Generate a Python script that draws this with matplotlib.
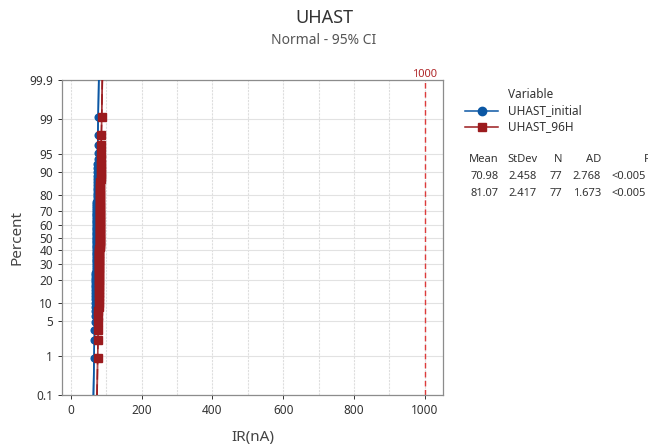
"""
Normal probability plot UHAST_initial vs UHAST_96H (Minitab-Stil)
"""

import numpy as np
import matplotlib
matplotlib.use('Agg')
import matplotlib.pyplot as plt
from matplotlib.lines import Line2D
from matplotlib.ticker import MultipleLocator
from statistics import NormalDist

# Daten: Messwerte (ganzzahlig, mit Haeufigkeit)
werte_initial = [65, 66, 67, 68, 69, 70, 71, 72, 73, 74, 75, 76, 77]
anzahl_initial = [1, 2, 3, 5, 8, 14, 14, 12, 8, 5, 3, 1, 1]
werte_96h = [75, 76, 77, 78, 79, 80, 81, 82, 83, 84, 85, 86, 87]
anzahl_96h = [1, 2, 3, 5, 8, 13, 14, 13, 8, 5, 3, 1, 1]

# Kennwerte aus der Tabelle
variablen = ['UHAST_initial', 'UHAST_96H']
mittel = [70.98, 81.07]
stdabw = [2.458, 2.417]
n_werte = [77, 77]
ad_werte = ['2.768', '1.673']
p_werte = ['<0.005', '<0.005']

y_ticks = [0.1, 1, 5, 10, 20, 30, 40, 50, 60, 70, 80, 90, 95, 99, 99.9]
y_labels = ['0.1', '1', '5', '10', '20', '30', '40', '50', '60', '70', '80', '90', '95', '99', '99.9']
referenz = 1000

farben = ['#0B57A4', '#9B1B1E']
marker = ['o', 's']
linien = ['-', (0, (7, 3))]

nd = NormalDist()
z = lambda p: nd.inv_cdf(p / 100.0)

plt.rcParams['font.family'] = ['Noto Sans', 'DejaVu Sans']
fig = plt.figure(figsize=(6.48, 4.48), dpi=100)
W, H = 648.0, 448.0
ax = fig.add_axes([62 / W, 1 - 395 / H, (443 - 62) / W, (395 - 80) / H])

for i, (w, a) in enumerate([(werte_initial, anzahl_initial), (werte_96h, anzahl_96h)]):
    x = np.sort(np.repeat(w, a))
    n = len(x)
    rang = np.arange(1, n + 1)
    p = (rang - 0.3) / (n + 0.4) * 100
    y = np.array([z(v) for v in p])
    # Fit-Gerade mit 95%-Konfidenzband
    pz = np.linspace(z(0.1), z(99.9), 60)
    fit = mittel[i] + pz * stdabw[i]
    se = stdabw[i] * np.sqrt((1 + pz ** 2 / 2) / n_werte[i])
    ax.plot(fit, pz, color=farben[i], lw=1.1, ls=linien[i], zorder=3)
    ax.plot(fit - 1.96 * se, pz, color=farben[i], lw=0.6, zorder=3)
    ax.plot(fit + 1.96 * se, pz, color=farben[i], lw=0.6, zorder=3)
    ax.plot(x, y, ls='none', marker=marker[i], color=farben[i], ms=4.8 if i == 0 else 5.3,
            mec=farben[i], zorder=4)

ax.axvline(referenz, color='#DD3B3B', lw=1, ls=(0, (4, 2.5)), zorder=2)
ax.text(referenz, z(99.9), '1000', color='#B0282A', fontsize=8, ha='center', va='bottom',
        transform=ax.transData)

ax.set_xlim(-25.5, 1052)
ax.set_ylim(z(0.1), z(99.9))
ax.set_yticks([z(v) for v in y_ticks])
ax.set_yticklabels(y_labels)
ax.xaxis.set_major_locator(MultipleLocator(200))
ax.xaxis.set_minor_locator(MultipleLocator(100))
ax.grid(axis='y', color='#E2E2E2', lw=0.8)
ax.grid(axis='x', which='both', color='#DEDEDE', lw=0.8, ls=(0, (2, 1)))
ax.set_axisbelow(True)
ax.tick_params(axis='both', labelsize=8.5, colors='#333333', length=3, width=0.7)
ax.tick_params(axis='x', which='minor', length=0)
for s in ax.spines.values():
    s.set_color('#8C8C8C')
    s.set_linewidth(0.9)

ax.set_xlabel('IR(nA)', fontsize=11, color='#444444', labelpad=9)
ax.set_ylabel('Percent', fontsize=11, color='#444444', labelpad=3)

fig.text(324 / W, 1 - 18 / H, 'UHAST', fontsize=13, color='#333333', ha='center', va='center')
fig.text(324 / W, 1 - 40 / H, 'Normal - 95% CI', fontsize=10, color='#555555', ha='center', va='center')

# Legende von Hand
fig.text(508 / W, 1 - 94 / H, 'Variable', fontsize=8.5, color='#333333', va='center')
for i, lab in enumerate(variablen):
    yy = 1 - (111 + 16 * i) / H
    fig.add_artist(Line2D([465 / W, 498 / W], [yy, yy], color=farben[i], lw=1.1,
                          transform=fig.transFigure))
    fig.add_artist(Line2D([481.5 / W], [yy], marker=marker[i], color=farben[i], ms=6,
                          transform=fig.transFigure))
    fig.text(508 / W, yy, lab, fontsize=8.5, color='#333333', va='center')

# Tabelle
spalten = [('Mean', 499), ('StDev', 537), ('N', 562), ('AD', 601)]
for kopf, xr in spalten:
    fig.text(xr / W, 1 - 159 / H, kopf, fontsize=8, color='#333333', ha='right', va='center')
fig.text(651 / W, 1 - 159 / H, 'P', fontsize=8, color='#333333', ha='right', va='center')
for i in range(2):
    yy = 1 - (176.5 + 16.5 * i) / H
    zeile = ['%.2f' % mittel[i], '%.3f' % stdabw[i], str(n_werte[i]), ad_werte[i]]
    for (kopf, xr), t in zip(spalten, zeile):
        fig.text(xr / W, yy, t, fontsize=8, color='#333333', ha='right', va='center')
    fig.text(612 / W, yy, p_werte[i], fontsize=8, color='#333333', ha='left', va='center')

fig.savefig('out.png', dpi=100)
